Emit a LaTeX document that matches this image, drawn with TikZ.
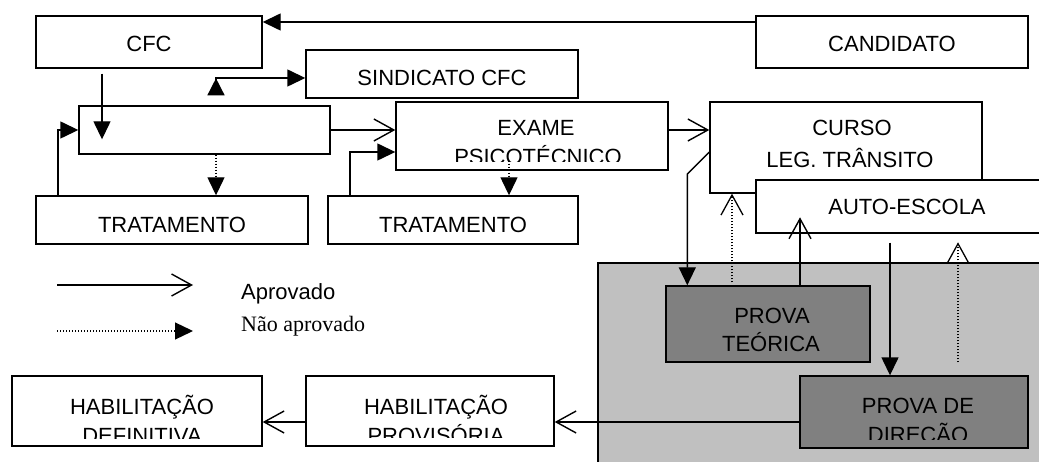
\documentclass[tikz,border=0pt]{standalone}
\usepackage{fontspec}
\setmainfont{Liberation Sans}
\newfontfamily\serifa{Liberation Serif}
\usetikzlibrary{arrows.meta}
\definecolor{cinzaclaro}{HTML}{C0C0C0}
\definecolor{cinzaescuro}{HTML}{808080}

\begin{document}
\begin{tikzpicture}[x=1pt, y=-1pt,
    caixa/.style={draw, line width=1.4pt, fill=white, inner sep=0pt, font=\fontsize{22}{26}\selectfont, text depth=0pt},
    prova/.style={caixa, fill=cinzaescuro},
    rotulo/.style={font=\fontsize{22}{26}\selectfont, inner sep=0pt, anchor=base},
    seta/.style={line width=1.4pt},
    cheia/.style={seta, -{Triangle[length=18pt,width=17pt]}},
    aberta/.style={seta, -{Straight Barb[length=20pt,width=22pt]}},
    pontos/.style={line width=1.3pt, dash pattern=on 1.3pt off 1.7pt}]
    \useasboundingbox (0,0) rectangle (1039,462);
    \clip (0,0) rectangle (1039,462);

    % area das provas
    \fill[cinzaclaro] (598,263) rectangle (1060,480);
    \draw[line width=1.4pt] (1060,263) -- (598,263) -- (598,480);

    % caixas de cima
    \node[caixa, minimum width=226pt, minimum height=52pt, text height=20pt] (cfc) at (149,42) {CFC};
    \node[caixa, minimum width=272pt, minimum height=52pt, text height=20pt] (candidato) at (892,42) {CANDIDATO};
    \node[caixa, minimum width=272pt, minimum height=48pt, text height=24pt] (sindicato) at (442,74) {SINDICATO CFC};
    \node[caixa, minimum width=251pt, minimum height=48pt] (registro) at (204.5,130) {};
    \node[caixa, minimum width=272pt, minimum height=48pt, text height=26pt] (trat1) at (172,220) {TRATAMENTO};
    \node[caixa, minimum width=250pt, minimum height=48pt, text height=26pt] (trat2) at (453,220) {TRATAMENTO};

    % exame
    \node[caixa, minimum width=272pt, minimum height=68pt] (exame) at (532,136) {};
    \begin{scope}
        \clip (exame.north west) rectangle ([yshift=9pt]exame.south east);
        \node[rotulo] (exame1) at (536,136) {EXAME};
        \node[rotulo] (exame2) at (538,165) {PSICOTÉCNICO};
    \end{scope}

    % curso e auto-escola
    \node[caixa, minimum width=272pt, minimum height=91pt] (curso) at (846,147.5) {};
    \node[rotulo] (curso1) at (852,136) {CURSO};
    \node[rotulo] (curso2) at (850,168) {LEG. TRÂNSITO};
    \node[caixa, minimum width=302pt, minimum height=53pt, text height=17pt] (auto) at (907,206.5) {AUTO-ESCOLA};

    % provas
    \node[prova, minimum width=204pt, minimum height=76pt] (teorica) at (768,324) {};
    \node[rotulo] (teorica1) at (772,324) {PROVA};
    \node[rotulo] (teorica2) at (771,352) {TEÓRICA};
    \node[prova, minimum width=228pt, minimum height=72pt] (direcao) at (914,412) {};
    \begin{scope}
        \clip (direcao.north west) rectangle ([yshift=9pt]direcao.south east);
        \node[rotulo] (direcao1) at (918,413) {PROVA DE};
        \node[rotulo] (direcao2) at (918,442) {DIREÇÃO};
    \end{scope}

    % habilitacoes
    \node[caixa, minimum width=248pt, minimum height=70pt] (provisoria) at (430,411) {};
    \begin{scope}
        \clip (provisoria.north west) rectangle ([yshift=9pt]provisoria.south east);
        \node[rotulo] (provisoria1) at (436,414) {HABILITAÇÃO};
        \node[rotulo] (provisoria2) at (436,443) {PROVISÓRIA};
    \end{scope}
    \node[caixa, minimum width=250pt, minimum height=70pt] (definitiva) at (137,411) {};
    \begin{scope}
        \clip (definitiva.north west) rectangle ([yshift=8pt]definitiva.south east);
        \node[rotulo] (definitiva1) at (142,414) {HABILITAÇÃO};
        \node[rotulo] (definitiva2) at (142,443) {DEFINITIVA};
    \end{scope}

    % ligacoes
    \draw[cheia] ([yshift=20pt]candidato.west) -- ([yshift=20pt]cfc.east);
    \draw[cheia] ([xshift=-47pt,yshift=-5pt]cfc.south) -- ([xshift=-102.5pt,yshift=-34pt]registro.north);
    \draw[seta, {Triangle[length=17pt,width=17pt,reversed]}-{Triangle[length=18pt,width=17pt]}]
        ([xshift=11.5pt,yshift=10pt]registro.north) |- ([yshift=-4pt]sindicato.west);
    \draw[cheia] ([xshift=-114pt]trat1.north) |- (registro.west);
    \draw[cheia, pontos] ([xshift=11.5pt]registro.south) -- ([xshift=11.5pt]registro.south |- trat1.north);
    \draw[aberta] (registro.east) -- (registro.east -| exame.west);
    \draw[cheia] ([xshift=-103pt]trat2.north) |- ([yshift=-16pt]exame.west);
    \draw[cheia, pontos] ([xshift=-23pt,yshift=10pt]exame.south) -- ([xshift=-23pt]exame.south |- trat2.north);
    \draw[aberta] ([yshift=6pt]exame.east) -- ([yshift=6pt]exame.east -| curso.west);
    \draw[cheia] ([yshift=-4.5pt]curso.west) -- ++(-22,22) coordinate (dobra) -- (dobra |- teorica.north);
    \draw[aberta, pontos] ([xshift=-36pt,yshift=3pt]teorica.north) -- ([xshift=-36pt]teorica.north |- curso.south);
    \draw[aberta] ([xshift=32pt]teorica.north) -- ++(0,-68);
    \draw[cheia] ([xshift=-17pt,yshift=-9pt]auto.south) -- ([xshift=-24pt]direcao.north);
    \draw[aberta, pontos] ([xshift=44pt,yshift=13pt]direcao.north) -- ++(0,-120);
    \draw[aberta] ([yshift=-10pt]direcao.west) -- ([yshift=-10pt]direcao.west -| provisoria.east);
    \draw[aberta] ([yshift=-11pt]provisoria.west) -- ([yshift=-11pt]provisoria.west -| definitiva.east);

    % legenda
    \coordinate (legSimA) at (57,285);
    \coordinate (legSimB) at (193,285);
    \coordinate (legNaoA) at (57,331);
    \coordinate (legNaoB) at (193,331);
    \draw[aberta] (legSimA) -- (legSimB);
    \draw[cheia, pontos] (legNaoA) -- (legNaoB);
    \node[rotulo, anchor=base west] (aprovado) at (241,300) {Aprovado};
    \node[rotulo, anchor=base west, font=\serifa\fontsize{22}{26}\selectfont] (naoaprovado) at (241,331) {Não aprovado};
\end{tikzpicture}
\end{document}
